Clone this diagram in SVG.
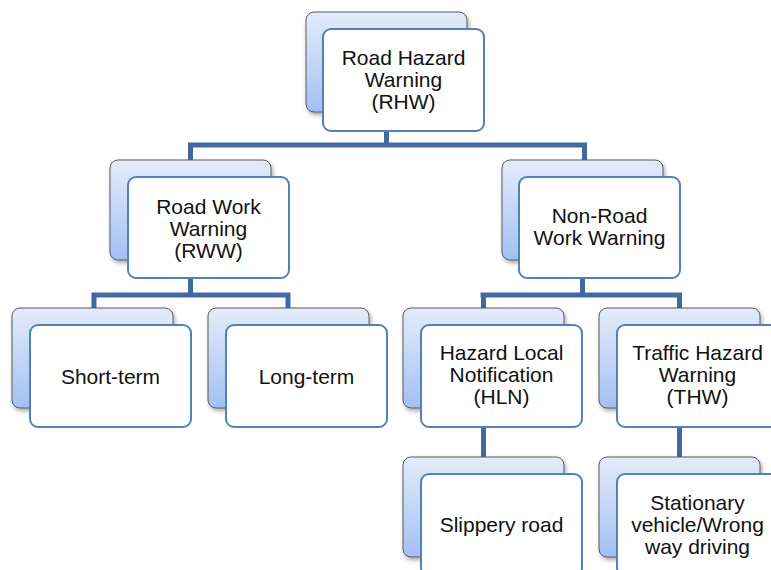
<svg xmlns="http://www.w3.org/2000/svg" width="771" height="570" viewBox="0 0 771 570">
  <defs>
    <linearGradient id="backFill" x1="0" y1="0" x2="0" y2="1">
      <stop offset="0" stop-color="#e4ecfa"/>
      <stop offset="1" stop-color="#a3c0f3"/>
    </linearGradient>
    <filter id="shadow" x="-10%" y="-10%" width="125%" height="130%">
      <feDropShadow dx="1.5" dy="2.5" stdDeviation="2" flood-color="#000" flood-opacity="0.35"/>
    </filter>
  </defs>
  <style>
    .back { fill: url(#backFill); stroke: #5a5a5a; stroke-width: 1; filter: url(#shadow); }
    .front { fill: #ffffff; stroke: #4f81bd; stroke-width: 2; }
    .label { font-family: "Liberation Sans", Arial, sans-serif; font-size: 21px; fill: #111; text-anchor: middle; }
    .conn { fill: none; stroke: #4169a0; stroke-width: 5; stroke-linejoin: miter; stroke-linecap: butt; }
  </style>
  <rect width="771" height="570" fill="#ffffff"/>

  <g id="connectors">
    <path class="conn" d="M386.5,131 V145 M188,145 H587 M190.5,145 V165 M584.5,145 V165"/>
    <path class="conn" d="M190.5,278 V295 M91.5,295 H290.5 M94,295 V312 M288,295 V312"/>
    <path class="conn" d="M582.5,278 V295 M480.5,295 H682 M483.5,295 V312 M679.5,295 V312"/>
    <path class="conn" d="M483.5,427 V460"/>
    <path class="conn" d="M679.5,427 V460"/>
  </g>

  <g id="rhw">
    <rect class="back" x="306" y="12" width="161" height="100" rx="8"/>
    <rect class="front" x="323" y="29" width="161" height="102" rx="8"/>
    <text class="label"><tspan x="403.5" y="65">Road Hazard</tspan><tspan x="403.5" y="87">Warning</tspan><tspan x="403.5" y="109">(RHW)</tspan></text>
  </g>

  <g id="rww">
    <rect class="back" x="110" y="160" width="161" height="100" rx="8"/>
    <rect class="front" x="128" y="177" width="161" height="101" rx="8"/>
    <text class="label"><tspan x="208.5" y="214">Road Work</tspan><tspan x="208.5" y="236">Warning</tspan><tspan x="208.5" y="258">(RWW)</tspan></text>
  </g>

  <g id="nrw">
    <rect class="back" x="502" y="160" width="161" height="100" rx="8"/>
    <rect class="front" x="519" y="177" width="161" height="101" rx="8"/>
    <text class="label"><tspan x="599.5" y="223">Non-Road</tspan><tspan x="599.5" y="245">Work Warning</tspan></text>
  </g>

  <g id="short-term">
    <rect class="back" x="12" y="308" width="161" height="100" rx="8"/>
    <rect class="front" x="30" y="325" width="161" height="102" rx="8"/>
    <text class="label" x="110.5" y="384">Short-term</text>
  </g>

  <g id="long-term">
    <rect class="back" x="208" y="308" width="161" height="100" rx="8"/>
    <rect class="front" x="226" y="325" width="161" height="102" rx="8"/>
    <text class="label" x="306.5" y="384">Long-term</text>
  </g>

  <g id="hln">
    <rect class="back" x="403" y="308" width="161" height="100" rx="8"/>
    <rect class="front" x="421" y="325" width="161" height="102" rx="8"/>
    <text class="label"><tspan x="501.5" y="360">Hazard Local</tspan><tspan x="501.5" y="382">Notification</tspan><tspan x="501.5" y="404">(HLN)</tspan></text>
  </g>

  <g id="thw">
    <rect class="back" x="599" y="308" width="161" height="100" rx="8"/>
    <rect class="front" x="617" y="325" width="161" height="102" rx="8"/>
    <text class="label"><tspan x="697.5" y="360">Traffic Hazard</tspan><tspan x="697.5" y="382">Warning</tspan><tspan x="697.5" y="404">(THW)</tspan></text>
  </g>

  <g id="slippery-road">
    <rect class="back" x="403" y="457" width="161" height="100" rx="8"/>
    <rect class="front" x="421" y="474" width="161" height="102" rx="8"/>
    <text class="label" x="501.5" y="532">Slippery road</text>
  </g>

  <g id="stationary-vehicle">
    <rect class="back" x="599" y="457" width="161" height="100" rx="8"/>
    <rect class="front" x="617" y="474" width="161" height="102" rx="8"/>
    <text class="label"><tspan x="697.5" y="510">Stationary</tspan><tspan x="697.5" y="532">vehicle/Wrong</tspan><tspan x="697.5" y="554">way driving</tspan></text>
  </g>
</svg>
